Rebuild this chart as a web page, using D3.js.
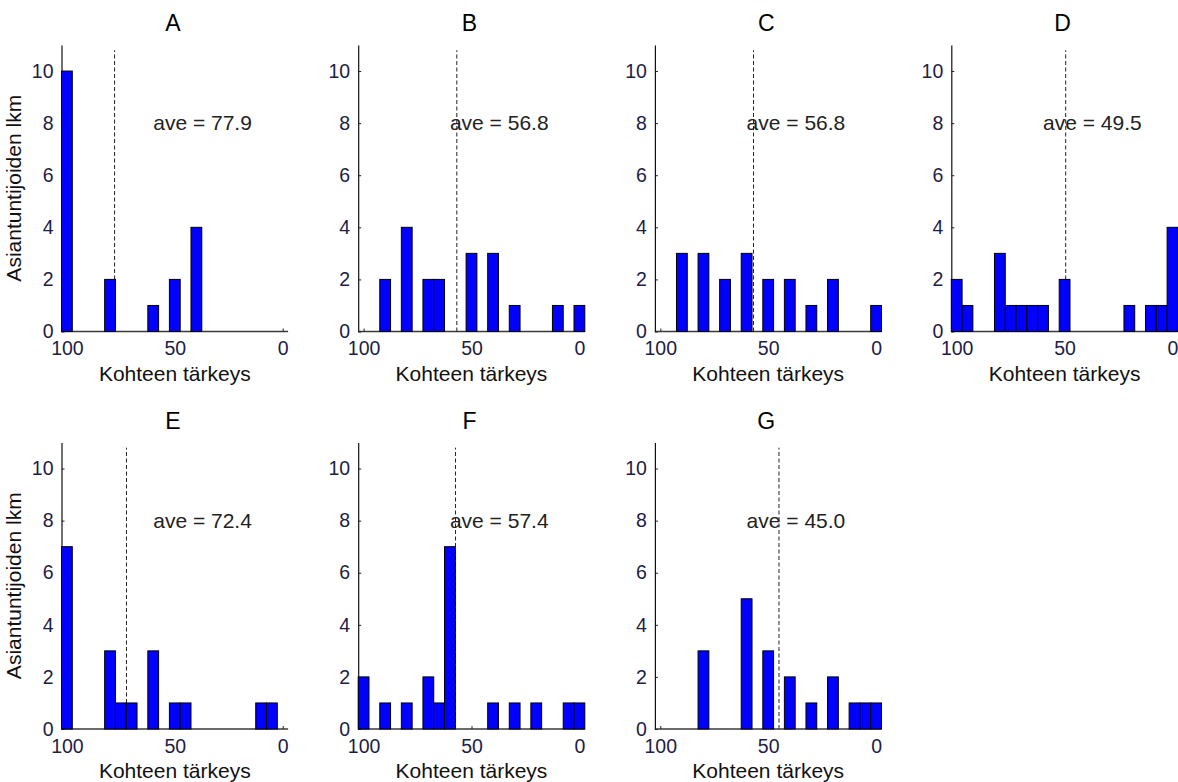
<!DOCTYPE html>
<html>
<head>
<meta charset="utf-8">
<script src="https://cdn.jsdelivr.net/npm/d3@7"></script>
<style>
  html, body { margin: 0; padding: 0; background: #fff; }
  svg { display: block; font-family: "Liberation Sans", Arial, sans-serif; }
</style>
</head>
<body>
<svg id="chart" width="1178" height="782"></svg>
<script>
// Histogram bins: importance score, from 100 down to 0 in steps of 5
const binCenters = [100, 95, 90, 85, 80, 75, 70, 65, 60, 55, 50, 45, 40, 35, 30, 25, 20, 15, 10, 5, 0];
const binWidth = 5;

// Number of experts per bin, one array per target
const countsA = [10, 0, 0, 0, 2, 0, 0, 0, 1, 0, 2, 0, 4, 0, 0, 0, 0, 0, 0, 0, 0];
const countsB = [0, 0, 2, 0, 4, 0, 2, 2, 0, 0, 3, 0, 3, 0, 1, 0, 0, 0, 1, 0, 1];
const countsC = [0, 0, 3, 0, 3, 0, 2, 0, 3, 0, 2, 0, 2, 0, 1, 0, 2, 0, 0, 0, 1];
const countsD = [2, 1, 0, 0, 3, 1, 1, 1, 1, 0, 2, 0, 0, 0, 0, 0, 1, 0, 1, 1, 4];
const countsE = [7, 0, 0, 0, 3, 1, 1, 0, 3, 0, 1, 1, 0, 0, 0, 0, 0, 0, 1, 1, 0];
const countsF = [2, 0, 1, 0, 1, 0, 2, 1, 7, 0, 0, 0, 1, 0, 1, 0, 1, 0, 0, 1, 1];
const countsG = [0, 0, 0, 0, 3, 0, 0, 0, 5, 0, 3, 0, 2, 0, 1, 0, 2, 0, 1, 1, 1];

const panelTitles = ["A", "B", "C", "D", "E", "F", "G"];
const panelCounts = [countsA, countsB, countsC, countsD, countsE, countsF, countsG];
const averages = [77.9, 56.8, 56.8, 49.5, 72.4, 57.4, 45.0];

const xTicks = [100, 50, 0];
const yTicks = [0, 2, 4, 6, 8, 10];
const xDomain = [102.5, -2.5];
const yDomain = [0, 11];
const aveLineTop = 10.8;
const aveLabelPos = [60, 8];

const xLabel = "Kohteen tärkeys";
const yLabel = "Asiantuntijoiden lkm";

// Layout
const plotW = 226.6, plotH = 286.5;
const colLeft = [61.5, 358.2, 654.9, 951.3];
const rowTop = [45, 442.5];

const svg = d3.select("#chart");
svg.append("rect").attr("width", 1178).attr("height", 782).attr("fill", "#fff");

panelTitles.forEach((title, i) => {
  const row = i < 4 ? 0 : 1;
  const col = i < 4 ? i : i - 4;
  const left = colLeft[col], top = rowTop[row];
  const counts = panelCounts[i];

  const x = d3.scaleLinear().domain(xDomain).range([0, plotW]);
  const y = d3.scaleLinear().domain(yDomain).range([plotH, 0]);

  const g = svg.append("g").attr("transform", `translate(${left},${top})`);

  // Axes (ticks point inward)
  const xAxis = g.append("g")
    .attr("transform", `translate(0,${plotH})`)
    .call(d3.axisBottom(x).tickValues(xTicks).tickSizeInner(-3).tickSizeOuter(0).tickPadding(10));
  const yAxis = g.append("g")
    .call(d3.axisLeft(y).tickValues(yTicks).tickSizeInner(-3).tickSizeOuter(0).tickPadding(8));

  [xAxis, yAxis].forEach(ax => {
    ax.selectAll("text").attr("font-size", 19.5).attr("fill", "#1d1d45")
      .attr("font-family", "'Liberation Sans', Arial, sans-serif");
    ax.selectAll("line").attr("stroke", "#222").attr("stroke-width", 1);
  });
  xAxis.select(".domain").attr("stroke", "#3a3a3a").attr("stroke-width", 1.6);
  yAxis.select(".domain").attr("stroke", "#111").attr("stroke-width", 1.2);
  // Extend the bottom axis line across the full x range
  xAxis.select(".domain").attr("d", `M0,0H${plotW}`);

  // Average marker
  g.append("line")
    .attr("x1", x(averages[i])).attr("x2", x(averages[i]))
    .attr("y1", y(0)).attr("y2", y(aveLineTop))
    .attr("stroke", "#222").attr("stroke-width", 1)
    .attr("stroke-dasharray", "4,2.5");

  // Histogram bars
  const bins = binCenters.map((c, k) => ({ c, n: counts[k] })).filter(d => d.n > 0);
  g.selectAll("rect.bar").data(bins).join("rect")
    .attr("class", "bar")
    .attr("x", d => x(d.c + binWidth / 2))
    .attr("width", d => x(d.c - binWidth / 2) - x(d.c + binWidth / 2))
    .attr("y", d => y(d.n))
    .attr("height", d => y(0) - y(d.n))
    .attr("fill", "#0000ff")
    .attr("stroke", "#000")
    .attr("stroke-width", 1);

  // Average label
  g.append("text")
    .attr("x", x(aveLabelPos[0])).attr("y", y(aveLabelPos[1]))
    .attr("dy", "0.35em")
    .attr("font-size", 21).attr("fill", "#222")
    .text(`ave = ${averages[i].toFixed(1)}`);

  // Title
  g.append("text")
    .attr("x", plotW / 2 - 2).attr("y", -14)
    .attr("text-anchor", "middle")
    .attr("font-size", 23).attr("fill", "#000")
    .text(title);

  // X label
  g.append("text")
    .attr("x", plotW / 2).attr("y", plotH + 49)
    .attr("text-anchor", "middle")
    .attr("font-size", 21).attr("fill", "#111")
    .text(xLabel);

  // Y label on the first column only
  if (col === 0) {
    g.append("text")
      .attr("transform", `translate(${21 - left},${plotH / 2}) rotate(-90)`)
      .attr("text-anchor", "middle")
      .attr("font-size", 21).attr("fill", "#111")
      .text(yLabel);
  }
});
</script>
</body>
</html>
